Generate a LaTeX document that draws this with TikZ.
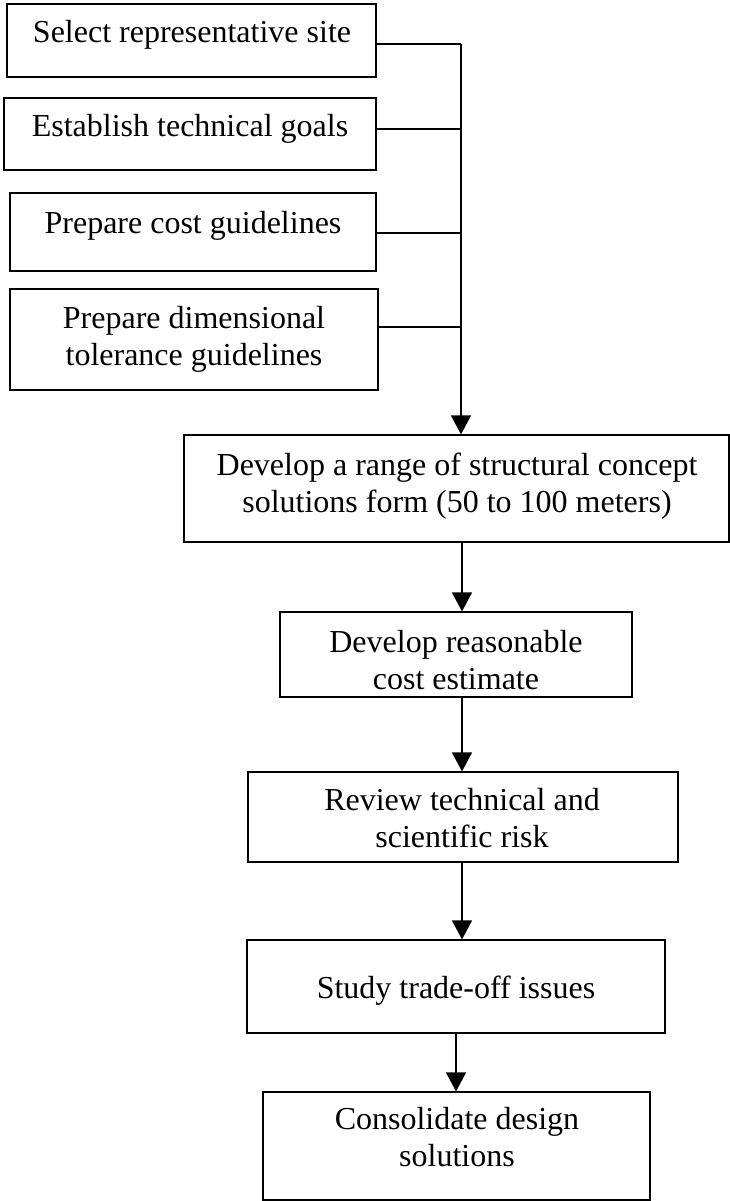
\documentclass[tikz,border=0pt]{standalone}
\usepackage{fontspec}
\setmainfont{Liberation Serif}
\usetikzlibrary{arrows.meta}
\begin{document}
\begin{tikzpicture}[x=1pt,y=-1pt,
  box/.style={draw=black,line width=1.2pt,inner sep=0pt},
  txt/.style={inner sep=0pt,align=center,font=\fontsize{32}{37}\selectfont},
  conn/.style={line width=1.2pt},
  arr/.style={line width=1.2pt,-{Triangle[width=20pt,length=19pt]}}]
\useasboundingbox (0,0) rectangle (730,1201);
% boxes
\node[box,minimum width=369pt,minimum height=73pt] (b1) at (191.5,40.5) {};
\node[box,minimum width=372pt,minimum height=72pt] (b2) at (190,134) {};
\node[box,minimum width=366pt,minimum height=78pt] (b3) at (193,232) {};
\node[box,minimum width=368pt,minimum height=101pt] (b4) at (194,339.5) {};
\node[box,minimum width=545pt,minimum height=107pt] (b5) at (456.5,488.5) {};
\node[box,minimum width=352pt,minimum height=85pt] (b6) at (456,654.5) {};
\node[box,minimum width=430pt,minimum height=90pt] (b7) at (463,817) {};
\node[box,minimum width=418pt,minimum height=93pt] (b8) at (456,986.5) {};
\node[box,minimum width=387pt,minimum height=108pt] (b9) at (456.5,1146) {};
% texts
\node[txt] (t1) at (192,35.6) {\strut Select representative site};
\node[txt] (t2) at (190,129.6) {\strut Establish technical goals};
\node[txt] (t3) at (193,225.6) {\strut Prepare cost guidelines};
\node[txt] (t4) at (194,339.1) {\strut Prepare dimensional\\\strut tolerance guidelines};
\node[txt] (t5) at (457,486.1) {\strut Develop a range of structural concept\\\strut solutions form (50 to 100 meters)};
\node[txt] (t6) at (456,663.1) {\strut Develop reasonable\\\strut cost estimate};
\node[txt] (t7) at (462,821.6) {\strut Review technical and\\\strut scientific risk};
\node[txt] (t8) at (456,990.6) {\strut Study trade-off issues};
\node[txt] (t9) at (457,1140.6) {\strut Consolidate design\\\strut solutions};
% junction coordinates
\coordinate (j1) at (461,44);
\coordinate (j2) at (461,129);
\coordinate (j3) at (461,233);
\coordinate (j4) at (461,327);
\coordinate (c1) at (462,0);
\coordinate (c2) at (456,0);
% connectors
\draw[conn] (b1.east |- j1) -- (j1);
\draw[conn] (b2.east |- j2) -- (j2);
\draw[conn] (b3.east |- j3) -- (j3);
\draw[conn] (b4.east |- j4) -- (j4);
\draw[arr] (j1) -- (b5.north -| j1);
\draw[arr] (b5.south -| c1) -- (b6.north -| c1);
\draw[arr] (b6.south -| c1) -- (b7.north -| c1);
\draw[arr] (b7.south -| c1) -- (b8.north -| c1);
\draw[arr] (b8.south -| c2) -- (b9.north -| c2);
\end{tikzpicture}
\end{document}
